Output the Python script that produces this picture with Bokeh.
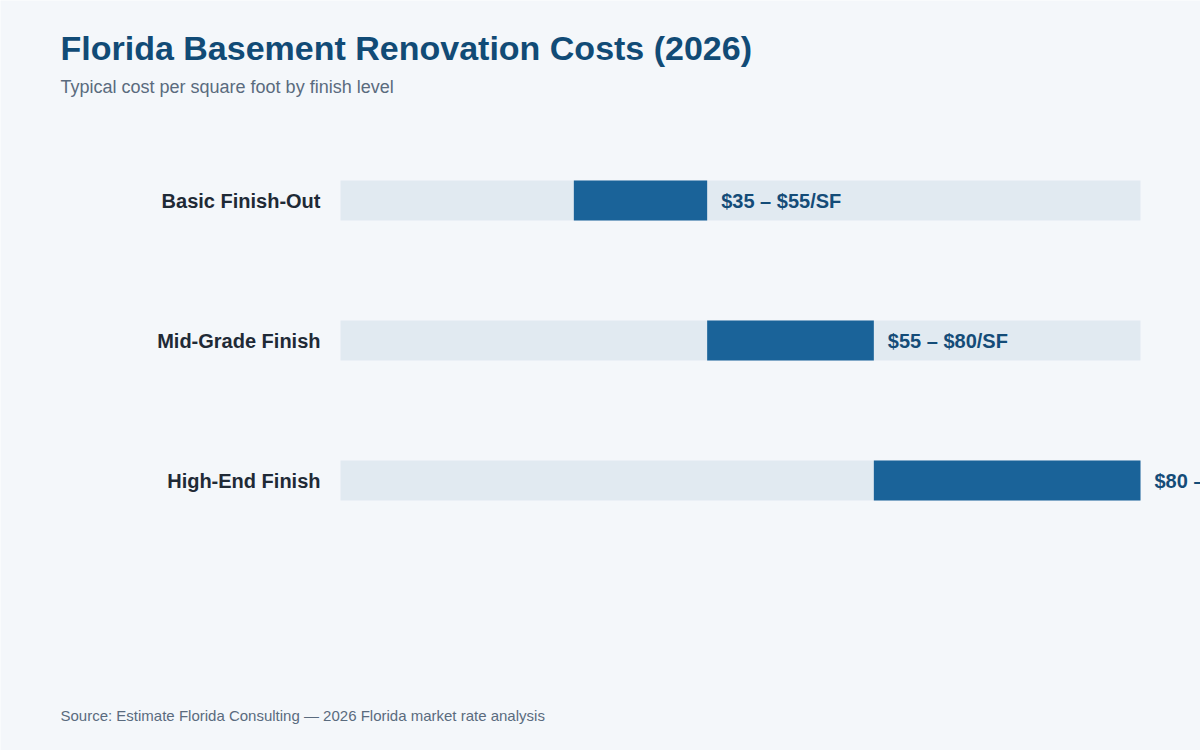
from bokeh.plotting import figure
from bokeh.models import Range1d, ColumnDataSource
from bokeh.core.properties import value
from bokeh.embed import file_html
from bokeh.resources import INLINE

# ---- data ----
categories = ["Basic Finish-Out", "Mid-Grade Finish", "High-End Finish"]
low = [35, 55, 80]
high = [55, 80, 120]
scale_max = 120
title_text = "Florida Basement Renovation Costs (2026)"
subtitle_text = "Typical cost per square foot by finish level"
source_text = "Source: Estimate Florida Consulting \u2014 2026 Florida market rate analysis"

# ---- layout ----
W, H = 1200, 750
track_left_px, track_right_px = 340, 1140
ppu = (track_right_px - track_left_px) / scale_max


def px2x(px):
    return (px - track_left_px) / ppu


FONT = value("Liberation Sans")
BG = "#f4f7fa"

p = figure(width=W, height=H, output_backend="svg", toolbar_location=None,
           x_range=Range1d(px2x(0), px2x(W)), y_range=Range1d(H, 0),
           min_border=0, background_fill_color=BG, border_fill_color=BG)
p.axis.visible = False
p.grid.visible = False
p.outline_line_color = None

ys = [200 + i * 140 for i in range(len(categories))]
src = ColumnDataSource(dict(
    y=ys, cat=categories, low=low, high=high,
    zero=[0] * len(categories), top=[scale_max] * len(categories),
    label=[f"${a} \u2013 ${b}/SF" for a, b in zip(low, high)],
    lx=[h + 14 / ppu for h in high],
    cx=[px2x(320)] * len(categories),
))

p.hbar(y="y", left="zero", right="top", height=40, source=src,
       fill_color="#e1eaf1", line_color=None)
p.hbar(y="y", left="low", right="high", height=40, source=src,
       fill_color="#1a6399", line_color=None)

p.text(x="cx", y="y", text="cat", source=src, text_align="right",
       text_baseline="middle", text_font=FONT, text_font_size="20px",
       text_font_style="bold", text_color="#1f2a36")
p.text(x="lx", y="y", text="label", source=src, text_align="left",
       text_baseline="middle", text_font=FONT, text_font_size="20px",
       text_font_style="bold", text_color="#144c78")

p.text(x=[px2x(60)], y=[47], text=[title_text], text_baseline="middle",
       text_font=FONT, text_font_size="34px", text_font_style="bold",
       text_color="#114b76")
p.text(x=[px2x(60)], y=[86], text=[subtitle_text], text_baseline="middle",
       text_font=FONT, text_font_size="18px", text_color="#5a6b7e")
p.text(x=[px2x(60)], y=[715], text=[source_text], text_baseline="middle",
       text_font=FONT, text_font_size="15px", text_color="#5a6b7e")

open("out.html", "w").write(file_html(p, INLINE))
